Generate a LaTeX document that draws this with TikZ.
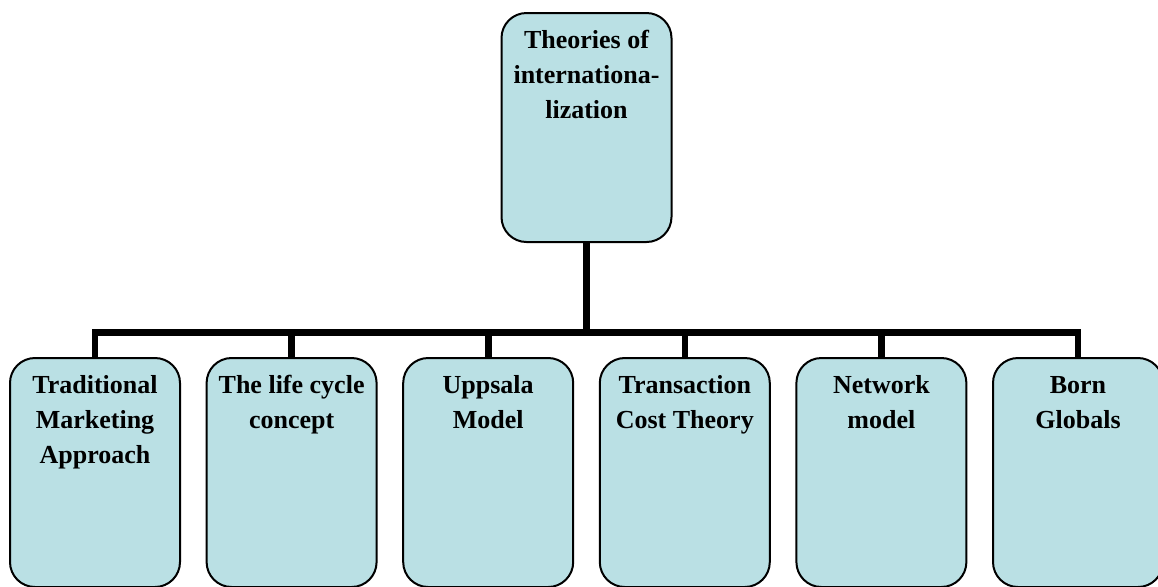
\documentclass[tikz,border=0pt]{standalone}
\usepackage{fontspec}
\setmainfont{Liberation Serif}
\usetikzlibrary{positioning}

\definecolor{theoryfill}{RGB}{186,224,228}
\newcommand{\boxtext}[1]{\parbox[c][114.5pt][t]{82pt}{\centering\vspace*{5.25pt}\strut#1}}

\begin{document}
\begin{tikzpicture}[x=0.5pt, y=-0.5pt, font=\fontsize{13}{17.5}\selectfont\bfseries, node distance=12.3pt,
    theory/.style={draw, line width=1pt, rounded corners=12.5pt, fill=theoryfill,
                   inner sep=0pt, minimum width=85pt, minimum height=114.5pt},
    link/.style={line width=3.3pt}]
  \path[use as bounding box, clip] (0,0) rectangle (1158,586);

  \node[theory, anchor=north] (root) at (586.5,12) {\boxtext{Theories of\\internationa-\\lization}};

  \node[theory, anchor=north] (tma) at (95,357) {\boxtext{Traditional\\Marketing\\Approach}};
  \node[theory, right=of tma] (lcc) {\boxtext{The life cycle\\concept}};
  \node[theory, right=of lcc] (ups) {\boxtext{Uppsala\\Model}};
  \node[theory, right=of ups] (tct) {\boxtext{Transaction\\Cost Theory}};
  \node[theory, right=of tct] (net) {\boxtext{Network\\model}};
  \node[theory, right=of net] (bg)  {\boxtext{Born\\Globals}};

  \coordinate (bus) at (586.5,332.5);
  \draw[link] (root.south) -- (root.south |- bus) -| (tma.north);
  \draw[link] (root.south) -- (root.south |- bus) -| (lcc.north);
  \draw[link] (root.south) -- (root.south |- bus) -| (ups.north);
  \draw[link] (root.south) -- (root.south |- bus) -| (tct.north);
  \draw[link] (root.south) -- (root.south |- bus) -| (net.north);
  \draw[link] (root.south) -- (root.south |- bus) -| (bg.north);
\end{tikzpicture}
\end{document}
